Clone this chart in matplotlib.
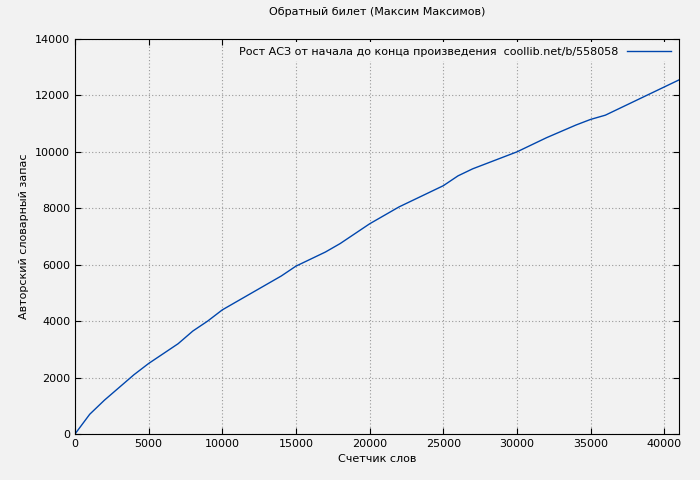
import matplotlib
matplotlib.use("Agg")
import matplotlib.pyplot as plt

words = [0,1000,2000,3000,4000,5000,6000,7000,8000,9000,10000,12000,14000,15000,17000,18000,19000,20000,21000,22000,24000,25000,26000,27000,28000,29000,30000,32000,34000,35000,36000,37000,38000,39000,40000,41000]
vocab = [0,700,1200,1650,2100,2500,2850,3200,3650,4000,4400,5000,5600,5950,6450,6750,7100,7450,7750,8050,8550,8800,9150,9400,9600,9800,10000,10500,10950,11150,11300,11550,11800,12050,12300,12550]

bg = '#f2f2f2'
fig = plt.figure(figsize=(7, 4.8), dpi=100, facecolor=bg)
ax = fig.add_axes([75/700, 1-434/480, (679-75)/700, (434-39)/480], facecolor=bg)
ax.plot(words, vocab, color='#0046ad', lw=1, label='Рост АСЗ от начала до конца произведения  coollib.net/b/558058')
ax.set_xlim(0, 41000)
ax.set_ylim(0, 14000)
ax.set_xticks(range(0, 41000, 5000))
ax.set_yticks(range(0, 14001, 2000))
ax.grid(True, color='#999999', linestyle=(0, (1, 2)), lw=0.8)
ax.tick_params(labelsize=8, direction='in', length=4, top=True, right=True)
for s in ax.spines.values():
    s.set_linewidth(0.8)
ax.set_xlabel('Счетчик слов', fontsize=8)
ax.set_ylabel('Авторский словарный запас', fontsize=8)
ax.set_title('Обратный билет (Максим Максимов)', fontsize=8, pad=17)
leg = ax.legend(loc='upper right', fontsize=8, frameon=True, facecolor=bg, edgecolor='none',
                framealpha=1, fancybox=False, markerfirst=False, handlelength=4, borderaxespad=0.3)
plt.savefig('out.png', dpi=100, facecolor=bg)
